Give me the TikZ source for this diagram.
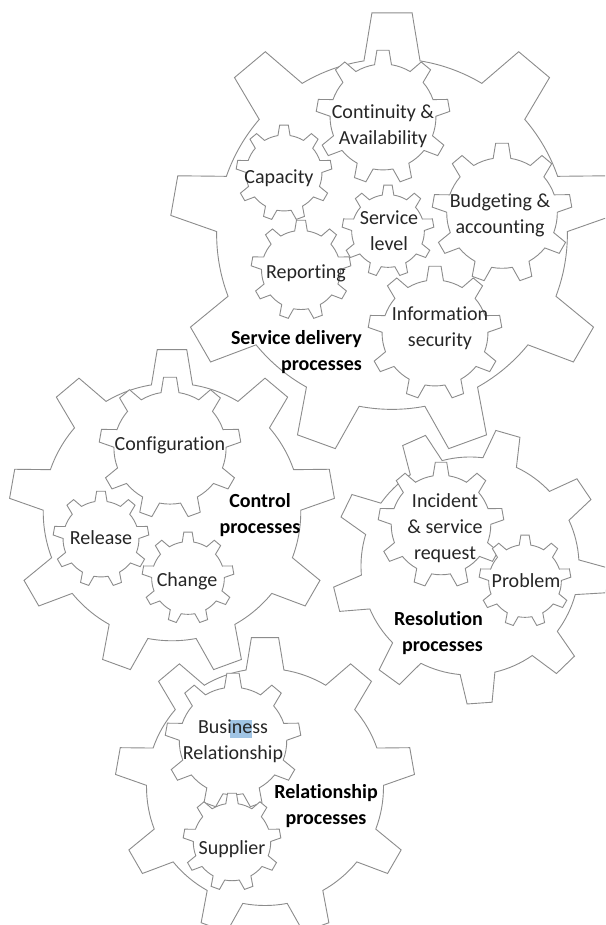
\documentclass[tikz,border=0pt]{standalone}
\usepackage{fontspec}
\setmainfont[Ligatures=NoCommon]{Carlito}
\definecolor{geargray}{RGB}{140,140,140}
\definecolor{labelgray}{RGB}{38,38,38}
\definecolor{selblue}{RGB}{160,196,228}

% proportions of a nine-tooth cog, relative to its tip radius
\def\cogroot{0.79}   % root circle / tip radius
\def\cogtip{5.2}     % half angle of a tooth at the tip (deg)
\def\cogbase{9.2}    % half angle of a tooth at the root (deg)

% \drawcog{cx}{cy}{tip radius}{angle of first tooth}
\newcommand{\drawcog}[4]{%
  \filldraw[gearline, shift={(#1,#2)}]
    ({#4-\cogbase}:{\cogroot*#3})
    \foreach \k in {0,...,8}{
      -- ({#4+40*\k-\cogbase}:{\cogroot*#3})
      -- ({#4+40*\k-\cogtip}:{#3})
      -- ({#4+40*\k+\cogtip}:{#3})
      -- ({#4+40*\k+\cogbase}:{\cogroot*#3})
      arc[start angle={#4+40*\k+\cogbase}, end angle={#4+40*\k+40-\cogbase}, radius={\cogroot*#3}]
    } -- cycle;}

\begin{document}
\begin{tikzpicture}[x=1pt, y=-1pt,
  gearline/.style={draw=geargray, fill=white, line width=0.9pt, line join=miter},
  label/.style={font=\fontsize{20}{26}\selectfont, text=labelgray, align=center, inner sep=0pt},
  title/.style={font=\fontsize{20}{26}\selectfont\bfseries, text=black, inner sep=0pt}]

\clip (0,0) rectangle (605,925);
\fill[white] (0,0) rectangle (605,925);

% large process cogs
\drawcog{392}{234}{222}{-90}  % service delivery
\drawcog{172}{512}{163}{-90}  % control
\drawcog{470}{566}{138}{-74}  % resolution
\drawcog{265}{787}{150}{-90}  % relationship

% service delivery cogs
\drawcog{383}{117}{67}{-90}   % continuity
\drawcog{284}{173}{48}{-90}   % capacity
\drawcog{388}{231}{46}{-90}   % service level
\drawcog{502}{213}{70}{-90}   % budgeting
\drawcog{301}{270}{50}{-90}   % reporting
\drawcog{435}{333}{67}{-90}   % information security

% control cogs
\drawcog{170}{448}{71}{-90}   % configuration
\drawcog{101}{539}{48}{-90}   % release
\drawcog{188}{578}{46}{-90}   % change

% resolution cogs
\drawcog{441}{525}{63}{-90}   % incident
\drawcog{525}{581}{46}{-90}   % problem

% relationship cogs
\drawcog{233}{741}{68}{-90}   % business relationship
\drawcog{232}{842}{49}{-90}   % supplier

% text selection mark inside "Business"
\fill[selblue] (230,720) rectangle (252,738);

% labels
\node[label] (cont) at (383,126) {Continuity \&\\Availability};
\node[label] (capa) at (279,178) {Capacity};
\node[label] (slvl) at (389,231) {Service\\level};
\node[label] (budg) at (500,215) {Budgeting \&\\accounting};
\node[label] (repo) at (306,273) {Reporting};
\node[label] (info) at (440,328) {Information\\security};
\node[title, align=right, anchor=east] (sdp) at (362,352) {Service delivery\\processes};

\node[label] (conf) at (170,445) {Configuration};
\node[label] (rele) at (101,538) {Release};
\node[label] (chan) at (187,581) {Change};
\node[title, align=center] (ctrl) at (260,515) {Control\\processes};

\node[label] (inci) at (445,528) {Incident\\\& service\\request};
\node[label] (prob) at (526,581) {Problem};
\node[title, align=right, anchor=east] (reso) at (483,633) {Resolution\\processes};

\node[label] (busi) at (233,741) {Business\\Relationship};
\node[label] (supp) at (232,849) {Supplier};
\node[title, align=center] (rela) at (326,806) {Relationship\\processes};

\end{tikzpicture}
\end{document}
